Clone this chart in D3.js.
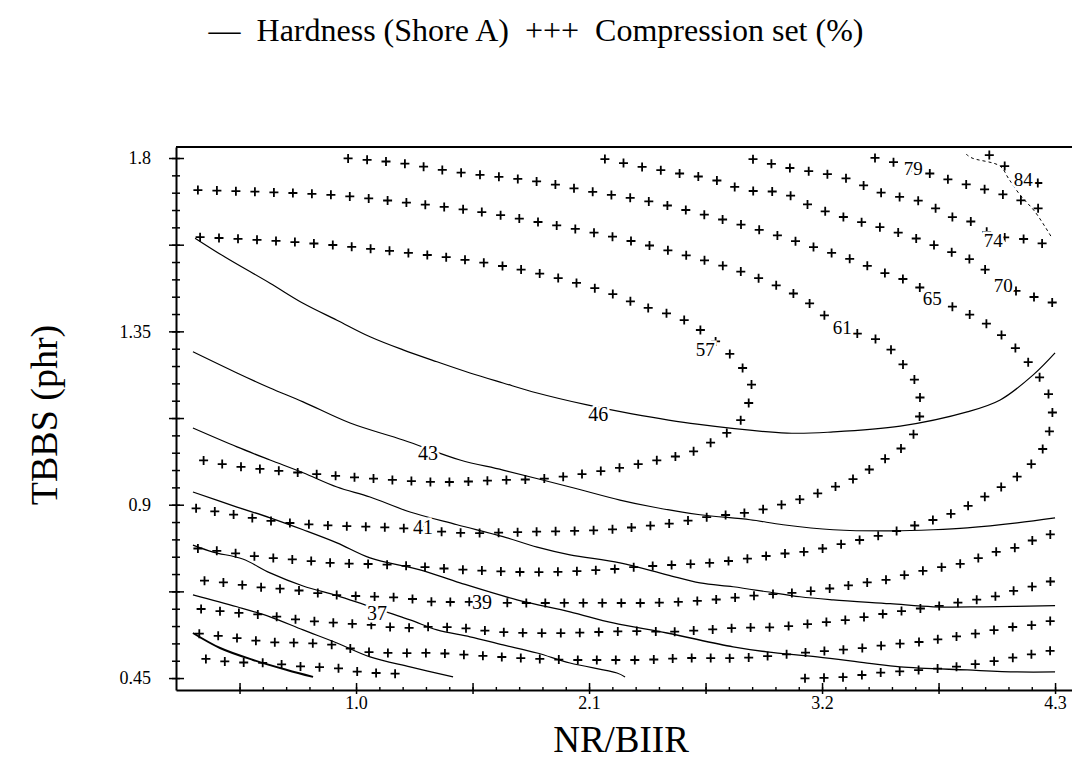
<!DOCTYPE html>
<html><head><meta charset="utf-8">
<script src="https://cdn.jsdelivr.net/npm/d3@7"></script>
<style>
body{margin:0;background:#fff;}
svg{display:block;font-family:"Liberation Serif","Times New Roman",serif;}
</style></head><body>
<svg id="chart" width="1072" height="780"></svg>
<script>
// ---------------- data ----------------
const xDomain = [0.15, 4.38];
const yDomain = [0.419, 1.8286];
const xMajorTicks = [0.45, 1.0, 1.55, 2.1, 2.65, 3.2, 3.75, 4.3];
const xLabelValues = [1.0, 2.1, 3.2, 4.3];
const xTickLabels = ["1.0", "2.1", "3.2", "4.3"];
const yMajorTicks = [0.45, 0.675, 0.9, 1.125, 1.35, 1.575, 1.8];
const yLabelValues = [0.45, 0.9, 1.35, 1.8];
const yTickLabels = ["0.45", "0.9", "1.35", "1.8"];

// Hardness (Shore A) contours  [NR/BIIR, TBBS]
const hardness46 = [[0.240,1.592],[0.381,1.543],[0.594,1.475],[0.750,1.423],[0.910,1.379],[1.066,1.336],[1.222,1.302],[1.382,1.271],[1.538,1.242],[1.694,1.216],[1.855,1.190],[2.091,1.159],[2.303,1.136],[2.610,1.109],[3.035,1.086],[3.253,1.089],[3.569,1.104],[3.885,1.141],[4.041,1.172],[4.197,1.237],[4.300,1.294]];
const hardness43 = [[0.230,1.297],[0.438,1.242],[0.594,1.203],[0.750,1.167],[0.972,1.112],[1.222,1.068],[1.491,1.016],[1.694,0.990],[2.010,0.946],[2.246,0.912],[2.402,0.894],[2.624,0.874],[2.860,0.861],[3.016,0.848],[3.253,0.835],[3.535,0.832],[3.725,0.835],[3.885,0.840],[4.121,0.853],[4.300,0.866]];
const hardness41 = [[0.230,1.099],[0.438,1.050],[0.594,1.016],[0.750,0.983],[0.910,0.946],[1.066,0.920],[1.255,0.881],[1.477,0.848],[1.694,0.817],[1.855,0.790],[2.010,0.770],[2.246,0.749],[2.468,0.718],[2.624,0.697],[2.780,0.687],[2.940,0.674],[3.096,0.661],[3.253,0.653],[3.521,0.643],[3.725,0.635],[3.960,0.635],[4.300,0.638]];
const hardness39 = [[0.230,0.933],[0.438,0.894],[0.594,0.866],[0.750,0.835],[0.910,0.801],[1.066,0.762],[1.302,0.731],[1.491,0.697],[1.760,0.653],[2.010,0.622],[2.214,0.593],[2.468,0.567],[2.780,0.531],[2.940,0.518],[3.177,0.505],[3.413,0.489],[3.569,0.479],[3.885,0.471],[4.121,0.466],[4.300,0.466]];
const hardness37 = [[0.230,0.795],[0.325,0.777],[0.465,0.759],[0.594,0.723],[0.750,0.689],[0.910,0.664],[1.042,0.640],[1.255,0.601],[1.382,0.575],[1.538,0.557],[1.694,0.536],[1.855,0.515],[2.010,0.489],[2.232,0.463],[2.270,0.453]];
const hardness35 = [[0.230,0.666],[0.438,0.635],[0.594,0.609],[0.750,0.575],[0.910,0.541],[1.066,0.505],[1.255,0.479],[1.458,0.453]];
const hardness33 = [[0.230,0.567],[0.358,0.528],[0.514,0.497],[0.674,0.471],[0.797,0.453]];
const hardnessTop = [[3.880,1.810],[3.908,1.800],[4.041,1.779],[4.079,1.748],[4.135,1.704],[4.206,1.660],[4.286,1.592]];
const hardnessLabels = [["46",2.143,1.136],["43",1.340,1.034],["41",1.316,0.843],["39",1.595,0.648],["37",1.099,0.620]];

// Compression set (%) contours
const comp57 = [[0.240,1.595],[0.557,1.587],[0.892,1.574],[1.208,1.556],[1.524,1.535],[1.859,1.501],[2.185,1.452],[2.341,1.418],[2.567,1.374],[2.813,1.263],[2.870,1.203],[2.846,1.154],[2.799,1.107],[2.719,1.076],[2.586,1.037],[2.426,1.016],[2.185,0.990],[1.916,0.969],[1.694,0.964],[1.382,0.959],[1.052,0.969],[0.736,0.983],[0.396,1.003],[0.230,1.021]];
const comp61 = [[0.230,1.717],[0.546,1.712],[0.892,1.704],[1.208,1.686],[1.529,1.665],[1.859,1.634],[2.176,1.600],[2.516,1.554],[2.837,1.501],[3.096,1.439],[3.295,1.359],[3.488,1.320],[3.592,1.257],[3.653,1.206],[3.663,1.154],[3.649,1.102],[3.592,1.055],[3.474,1.011],[3.366,0.972],[3.181,0.930],[3.002,0.899],[2.837,0.879],[2.671,0.869],[2.506,0.853],[2.341,0.843],[2.176,0.835],[1.855,0.830],[1.491,0.827],[1.193,0.840],[0.877,0.846],[0.627,0.856],[0.405,0.876],[0.230,0.892]];
const comp65 = [[0.939,1.800],[1.208,1.787],[1.467,1.764],[1.680,1.751],[1.869,1.738],[2.119,1.712],[2.350,1.691],[2.615,1.657],[2.907,1.613],[3.158,1.569],[3.347,1.535],[3.488,1.503],[3.630,1.475],[3.720,1.440],[3.970,1.372],[4.088,1.320],[4.192,1.257],[4.253,1.206],[4.286,1.154],[4.277,1.099],[4.239,1.042],[4.149,0.985],[4.003,0.932],[3.819,0.879],[3.649,0.848],[3.521,0.827],[3.318,0.801],[3.144,0.780],[3.002,0.772],[2.837,0.759],[2.671,0.749],[2.506,0.744],[2.341,0.739],[2.166,0.731],[1.855,0.725],[1.515,0.731],[1.161,0.744],[0.887,0.749],[0.721,0.757],[0.556,0.764],[0.391,0.777],[0.230,0.788]];
const comp70Upper = [[2.152,1.800],[2.350,1.777],[2.516,1.761],[2.695,1.743],[2.837,1.717],[3.016,1.709],[3.158,1.673],[3.318,1.644],[3.488,1.618],[3.640,1.592],[3.819,1.554],[3.932,1.527],[4.055,1.470],[4.300,1.423]];
const comp70Lower = [[4.300,0.827],[4.197,0.808],[4.121,0.790],[4.003,0.775],[3.885,0.751],[3.748,0.736],[3.630,0.723],[3.502,0.705],[3.394,0.697],[3.253,0.684],[3.120,0.674],[2.922,0.666],[2.681,0.653],[2.531,0.648],[2.364,0.645],[2.199,0.645],[2.010,0.645],[1.760,0.645],[1.524,0.648],[1.364,0.648],[1.222,0.658],[0.892,0.666],[0.703,0.679],[0.525,0.687],[0.396,0.697],[0.230,0.705]];
const comp74Upper = [[2.851,1.800],[3.049,1.774],[3.309,1.748],[3.484,1.709],[3.673,1.686],[3.814,1.647],[3.908,1.634],[4.008,1.600],[4.182,1.587],[4.300,1.567]];
const comp74Lower = [[4.300,0.705],[4.230,0.692],[4.121,0.679],[4.008,0.661],[3.867,0.648],[3.725,0.635],[3.616,0.627],[3.460,0.614],[3.318,0.601],[3.177,0.593],[3.002,0.583],[2.799,0.580],[2.648,0.575],[2.483,0.570],[2.331,0.572],[2.176,0.570],[2.010,0.567],[1.836,0.567],[1.666,0.570],[1.500,0.580],[1.340,0.583],[1.208,0.580],[1.080,0.588],[0.910,0.593],[0.736,0.601],[0.561,0.614],[0.382,0.622],[0.230,0.632]];
const comp79Upper = [[3.427,1.803],[3.531,1.790],[3.630,1.774],[3.805,1.743],[3.979,1.717],[4.135,1.691],[4.300,1.647]];
const comp79Lower = [[4.300,0.601],[4.197,0.588],[4.064,0.580],[3.946,0.567],[3.819,0.557],[3.663,0.544],[3.507,0.536],[3.394,0.528],[3.286,0.523],[3.096,0.515],[3.002,0.510],[2.813,0.502],[2.577,0.502],[2.341,0.497],[2.185,0.497],[2.020,0.497],[1.775,0.502],[1.529,0.510],[1.364,0.515],[1.193,0.515],[1.052,0.518],[0.892,0.536],[0.759,0.541],[0.580,0.544],[0.391,0.557],[0.230,0.567]];
const comp84Upper = [[3.970,1.815],[4.060,1.780],[4.145,1.745],[4.220,1.735],[4.300,1.727]];
const comp84LowerRight = [[4.300,0.523],[4.121,0.505],[3.993,0.492],[3.829,0.479],[3.616,0.469],[3.456,0.463],[3.318,0.453],[3.144,0.450],[3.064,0.448]];
const comp84LowerLeft = [[1.208,0.461],[1.019,0.466],[0.892,0.477],[0.768,0.479],[0.580,0.489],[0.405,0.492],[0.230,0.505]];
const compLabels = [["57",2.648,1.302],["61",3.295,1.359],["65",3.720,1.436],["70",4.055,1.470],["74",4.008,1.587],["79",3.630,1.774],["84",4.150,1.743]];

// ---------------- drawing ----------------
const svg = d3.select("#chart");
const m = {left:176, top:147, right:1072, bottom:690};
const x = d3.scaleLinear().domain(xDomain).range([m.left, m.right]);
const y = d3.scaleLinear().domain(yDomain).range([m.bottom, m.top]);

svg.append("defs").append("clipPath").attr("id","plotClip").append("rect")
  .attr("x", m.left).attr("y", m.top - 2).attr("width", m.right - m.left).attr("height", m.bottom - m.top + 2);

const line = d3.line().x(d => x(d[0])).y(d => y(d[1])).curve(d3.curveCatmullRom.alpha(0.5));
const plot = svg.append("g").attr("clip-path", "url(#plotClip)");

const hardnessSet = [
  {pts: hardness46, w: 1.2}, {pts: hardness43, w: 1.2}, {pts: hardness41, w: 1.2},
  {pts: hardness39, w: 1.3}, {pts: hardness37, w: 1.2}, {pts: hardness35, w: 1.2},
  {pts: hardness33, w: 2.0}, {pts: hardnessTop, w: 1.0, dash: "3,3"}
];
hardnessSet.forEach(h => {
  plot.append("path").attr("d", line(h.pts)).attr("fill", "none")
    .attr("stroke", "#000").attr("stroke-width", h.w)
    .attr("stroke-dasharray", h.dash || null);
});

const compSet = [comp57, comp61, comp65, comp70Upper, comp70Lower, comp74Upper, comp74Lower,
  comp79Upper, comp79Lower, comp84Upper, comp84LowerRight, comp84LowerLeft];
const measure = svg.append("path").attr("fill", "none").attr("stroke", "none");
compSet.forEach(seg => {
  measure.attr("d", line(seg));
  const node = measure.node();
  const L = node.getTotalLength();
  let d = "";
  for (let s = 5; s <= L; s += 19) {
    const p = node.getPointAtLength(s);
    d += `M${(p.x-4.5).toFixed(1)},${p.y.toFixed(1)}h9M${p.x.toFixed(1)},${(p.y-4.5).toFixed(1)}v9`;
  }
  plot.append("path").attr("d", d).attr("fill", "none").attr("stroke", "#000").attr("stroke-width", 1.8);
});
measure.remove();

// contour labels
function drawLabels(list, size) {
  svg.append("g").selectAll("text").data(list).join("text")
    .attr("x", d => x(d[1])).attr("y", d => y(d[2]))
    .attr("text-anchor", "middle").attr("dominant-baseline", "central")
    .attr("font-size", size).attr("fill", "#000")
    .attr("stroke", "#fff").attr("stroke-width", 5).attr("paint-order", "stroke")
    .text(d => d[0]);
}
drawLabels(hardnessLabels, 20);
drawLabels(compLabels, 19);

// axes
const yMinorTicks = d3.range(0, 31).map(i => +(0.45 + i * 0.045).toFixed(3));
const yMinor = svg.append("g").attr("transform", `translate(${m.left},0)`)
  .call(d3.axisLeft(y).tickValues(yMinorTicks).tickFormat("").tickSizeInner(4).tickSizeOuter(0));
yMinor.selectAll(".tick line").attr("x1", 4).attr("x2", -4).attr("stroke-width", 1.5);
yMinor.select(".domain").attr("stroke-width", 2);

const yMajor = svg.append("g").attr("transform", `translate(${m.left},0)`)
  .call(d3.axisLeft(y).tickValues(yMajorTicks).tickFormat("").tickSize(7));
yMajor.select(".domain").remove();
yMajor.selectAll(".tick line").attr("x1", 8).attr("x2", -7).attr("stroke-width", 1.5);

const yLab = svg.append("g").attr("transform", `translate(${m.left},0)`)
  .call(d3.axisLeft(y).tickValues(yLabelValues).tickFormat((d, i) => yTickLabels[i]).tickSize(0).tickPadding(25));
yLab.select(".domain").remove();
yLab.selectAll("text").attr("font-family", "Liberation Serif").attr("font-size", 18).attr("fill", "#000");

const xMinorTicks = d3.range(0, 36).map(i => +(0.45 + i * 0.11).toFixed(3));
const xMinor = svg.append("g").attr("transform", `translate(0,${m.bottom})`)
  .call(d3.axisBottom(x).tickValues(xMinorTicks).tickFormat("").tickSizeInner(3).tickSizeOuter(0));
xMinor.selectAll(".tick line").attr("y1", 0).attr("y2", -3).attr("stroke-width", 1.4);
xMinor.select(".domain").attr("stroke-width", 2);

const xMajor = svg.append("g").attr("transform", `translate(0,${m.bottom})`)
  .call(d3.axisBottom(x).tickValues(xMajorTicks).tickFormat("").tickSize(4));
xMajor.select(".domain").remove();
xMajor.selectAll(".tick line").attr("y1", -7).attr("y2", 4).attr("stroke-width", 1.5);

const xLab = svg.append("g").attr("transform", `translate(0,${m.bottom})`)
  .call(d3.axisBottom(x).tickValues(xLabelValues).tickFormat((d, i) => xTickLabels[i]).tickSize(0).tickPadding(6));
xLab.select(".domain").remove();
xLab.selectAll("text").attr("font-family", "Liberation Serif").attr("font-size", 18).attr("fill", "#000");

// top frame line
svg.append("line").attr("x1", m.left).attr("x2", m.right).attr("y1", m.top).attr("y2", m.top)
  .attr("stroke", "#000").attr("stroke-width", 2);

// titles
svg.append("text").attr("x", 621).attr("y", 752).attr("text-anchor", "middle")
  .attr("font-size", 37).text("NR/BIIR");
svg.append("text").attr("transform", "translate(57,415) rotate(-90)").attr("text-anchor", "middle")
  .attr("font-size", 38).text("TBBS (phr)");

// legend
const leg = svg.append("text").attr("x", 536).attr("y", 41).attr("text-anchor", "middle").attr("font-size", 32);
leg.append("tspan").text("\u2014\u00a0 Hardness (Shore A)\u00a0\u00a0+++\u00a0\u00a0Compression set (%)");
</script>
</body></html>
